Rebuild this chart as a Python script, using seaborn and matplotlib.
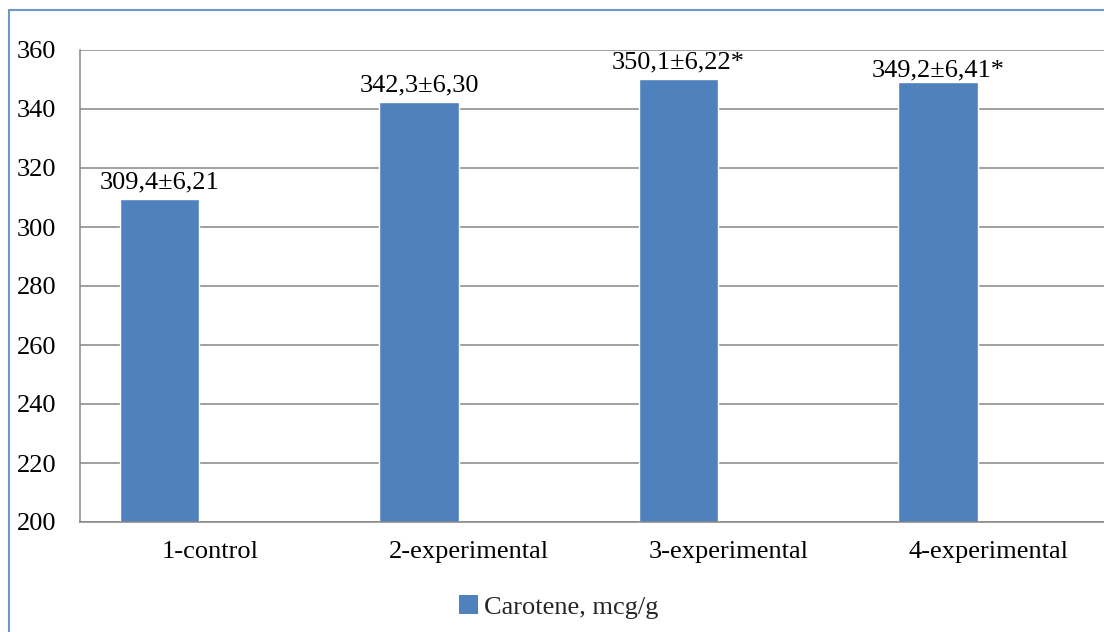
import matplotlib
matplotlib.use("Agg")
import matplotlib.pyplot as plt
import numpy as np
import pandas as pd
import seaborn as sns
from matplotlib.patches import Rectangle, Patch

# Carotene content by group
groups = ["1-control", "2-experimental", "3-experimental", "4-experimental"]
values = [309.4, 342.3, 350.1, 349.2]
errors = ["6,21", "6,30", "6,22", "6,41"]
marks = ["", "", "*", "*"]
series = "Carotene, mcg/g"
y_ticks = [200, 220, 240, 260, 280, 300, 320, 340, 360]

BAR = "#4F81BD"
GRID = "#868686"

sns.set_theme(style="white")
plt.rcParams["font.family"] = ["Liberation Serif", "DejaVu Serif"]

W, H = 1104, 632
fig = plt.figure(figsize=(W / 100, H / 100), dpi=100)
ax = fig.add_axes([80 / W, 110 / H, 1038 / W, 472 / H])

df = pd.DataFrame({"group": groups, "value": values, "series": series})
# second (empty) series slot keeps the bars on the left half of each category
sns.barplot(data=df, x="group", y="value", hue="series",
            hue_order=[series, " "], order=groups, dodge=True,
            palette=[BAR, "#C0504D"], width=0.774, gap=0.21,
            saturation=1, errorbar=None, legend=False, ax=ax)

ax.set_ylim(y_ticks[0], y_ticks[-1])
ax.set_yticks(y_ticks)
ax.set_xlim(-0.5, len(groups) - 0.5)
ax.set_xlabel("")
ax.set_ylabel("")
ax.yaxis.grid(True, color=GRID, lw=1.1)
ax.set_axisbelow(True)
ax.tick_params(axis="both", length=0, labelsize=19, colors="black")
ax.tick_params(axis="y", pad=17)
ax.tick_params(axis="x", pad=14)
for side in ("top", "right"):
    ax.spines[side].set_visible(False)
for side in ("left", "bottom"):
    ax.spines[side].set_color(GRID)
    ax.spines[side].set_linewidth(1.1)

# value labels above the bars
pads = [4, 4, 4, 0]
for bar, v, e, m, p in zip(ax.containers[0], values, errors, marks, pads):
    txt = f"{v:.1f}".replace(".", ",") + "±" + e + m
    ax.annotate(txt, (bar.get_x() + bar.get_width() / 2, bar.get_height()),
                xytext=(0, p), textcoords="offset points",
                ha="center", va="bottom", fontsize=19, color="black",
                annotation_clip=False)

fig.legend(handles=[Patch(facecolor=BAR, edgecolor="none")], labels=[series],
           loc="center", bbox_to_anchor=(559 / W, 1 - 607 / H),
           frameon=False, handlelength=0.7, handleheight=0.7,
           handletextpad=0.25, fontsize=19)

# chart frame
fig.add_artist(Rectangle((9 / W, -0.1), 1.2, (H - 10) / H + 0.1,
                         transform=fig.transFigure, fill=False,
                         edgecolor="#6F95C9", lw=1.5))

fig.savefig("out.png", dpi=100, facecolor="white")
